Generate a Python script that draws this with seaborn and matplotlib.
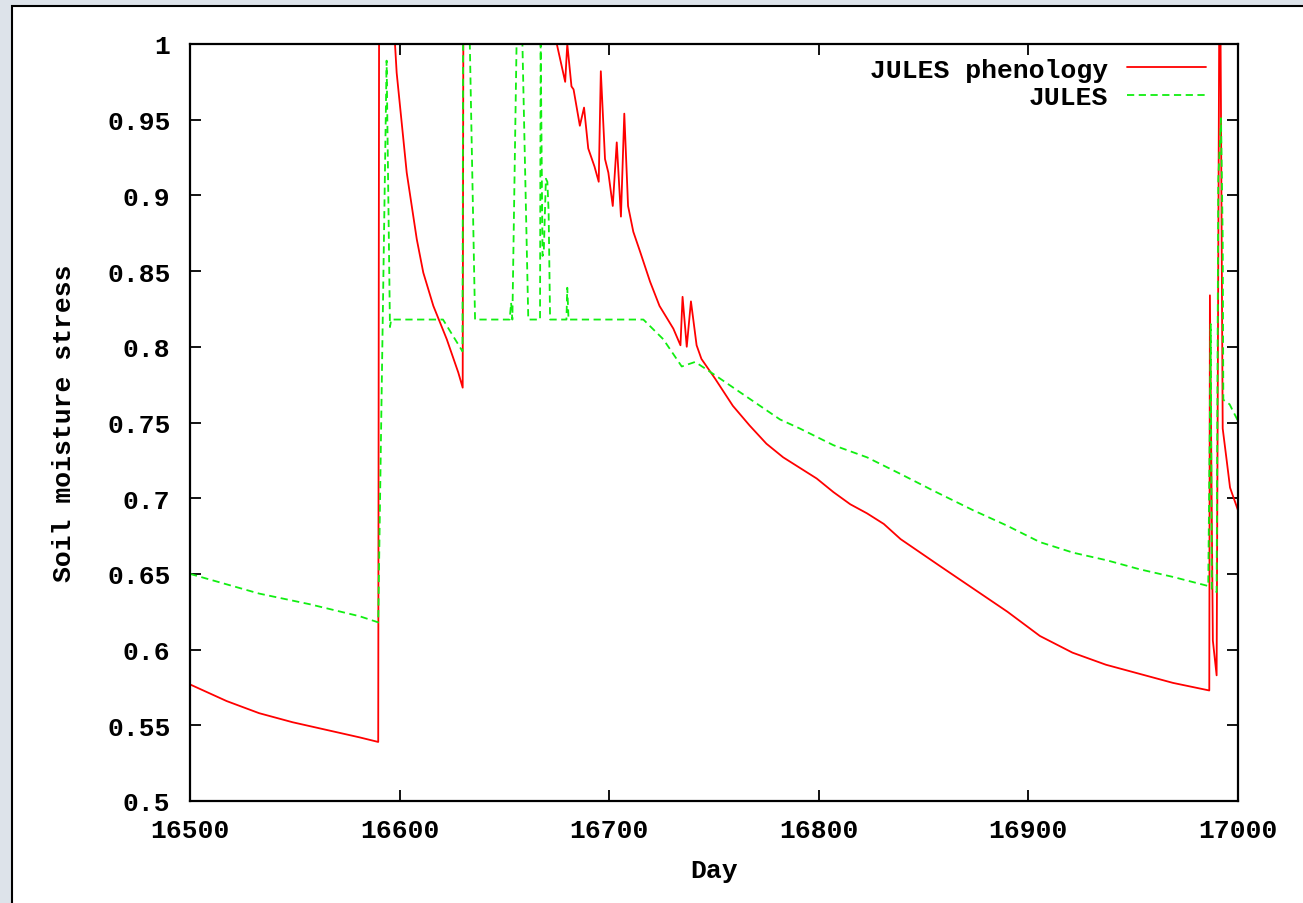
import matplotlib
matplotlib.use("Agg")
import matplotlib.pyplot as plt
import seaborn as sns
from matplotlib.patches import Rectangle
from matplotlib.ticker import MultipleLocator, FuncFormatter

# --- Data ---
pheno_day = [16500, 16517.5, 16533, 16549, 16565, 16581, 16589.8, 16590.2, 16597.8, 16598.6,
             16600.2, 16601.8, 16603.4, 16605.8, 16608.2, 16611.3, 16616.1, 16622.5, 16628, 16630.1,
             16630.4, 16675, 16679, 16680, 16682, 16683, 16686,
             16688, 16690, 16693, 16695, 16696, 16698, 16699.6, 16701.7, 16703.6, 16705.6,
             16707.2, 16709, 16711.5, 16714.7, 16719.5, 16724, 16730.6, 16734, 16735, 16737,
             16739, 16741.7, 16744, 16750.5, 16759, 16767, 16775, 16783, 16791, 16799,
             16807, 16815, 16823, 16831, 16839, 16858, 16874, 16890, 16905.5, 16921,
             16937, 16953, 16969, 16986.3, 16986.6, 16988, 16989.8, 16991, 16991.7, 16992.7,
             16994.6, 16996.2, 17000]
pheno_val = [0.577, 0.566, 0.558, 0.552, 0.547, 0.542, 0.539, 1.0, 1.0, 0.981,
             0.959, 0.937, 0.915, 0.893, 0.871, 0.849, 0.827, 0.805, 0.783, 0.773,
             1.0, 1.0, 0.975, 1.0, 0.972, 0.970, 0.946,
             0.958, 0.931, 0.919, 0.909, 0.982, 0.924, 0.915, 0.893, 0.935, 0.886,
             0.954, 0.893, 0.876, 0.863, 0.843, 0.827, 0.812, 0.801, 0.833, 0.800,
             0.830, 0.801, 0.792, 0.779, 0.761, 0.748, 0.736, 0.727, 0.720, 0.713,
             0.704, 0.696, 0.690, 0.683, 0.673, 0.655, 0.640, 0.625, 0.609, 0.598,
             0.590, 0.584, 0.578, 0.573, 0.834, 0.606, 0.583, 1.0, 1.0, 0.746,
             0.725, 0.707, 0.692]

jules_day = [16500, 16533, 16557, 16581, 16589.8, 16593.8, 16595.4, 16596, 16620.7, 16630,
             16630.3, 16633.5, 16636, 16652.5, 16653.2, 16653.8, 16655.8, 16658.6, 16661.4, 16667,
             16667.3, 16668.2, 16668.8, 16669.8, 16670.5, 16671.1, 16671.8, 16679.6, 16680, 16680.6,
             16716.3, 16725.8, 16734.6, 16741, 16746.5, 16752.9, 16762.4, 16781.5, 16791, 16807,
             16823, 16839, 16854.6, 16873.7, 16889.6, 16905.5, 16921.4, 16937.4, 16953.2, 16969,
             16985.8, 16987, 16987.5, 16989.8, 16990.6, 16991.9, 16992.7, 16993, 16996, 17000]
jules_val = [0.650, 0.637, 0.630, 0.622, 0.618, 0.989, 0.813, 0.818, 0.818, 0.797,
             1.0, 1.0, 0.818, 0.818, 0.829, 0.818, 1.0, 1.0, 0.818, 0.818,
             1.0, 0.860, 0.863, 0.911, 0.909, 0.889, 0.818, 0.818, 0.839, 0.818,
             0.818, 0.805, 0.787, 0.790, 0.785, 0.779, 0.770, 0.752, 0.746, 0.735,
             0.727, 0.716, 0.705, 0.692, 0.682, 0.671, 0.664, 0.659, 0.653, 0.648,
             0.642, 0.815, 0.640, 0.638, 0.911, 0.951, 0.872, 0.765, 0.762, 0.751]

# --- Style ---
sns.set_style("ticks")
plt.rcParams["font.family"] = ["Liberation Mono", "DejaVu Sans Mono"]
plt.rcParams["font.weight"] = "bold"
plt.rcParams["axes.labelweight"] = "bold"
plt.rcParams["text.color"] = "black"
plt.rcParams["axes.labelcolor"] = "black"

W, H = 1303, 904
fig = plt.figure(figsize=(W / 100, H / 100), dpi=100, facecolor="#dde3ea")
# white window with a black frame, like the screenshot
fig.add_artist(Rectangle((12 / W, -0.05), 1.2, 1 - 7 / H + 0.05,
                         transform=fig.transFigure, facecolor="white",
                         edgecolor="black", linewidth=1.5, zorder=0))

ax = fig.add_axes([190 / W, 1 - 802 / H, 1048 / W, 757 / H])
ax.set_facecolor("white")

sns.lineplot(x=pheno_day, y=pheno_val, ax=ax, color="#ff0000", linewidth=1.3,
             label="JULES phenology", estimator=None, sort=False)
sns.lineplot(x=jules_day, y=jules_val, ax=ax, color="#11ee11", linewidth=1.3,
             linestyle=(0, (4, 2.5)), label="JULES", estimator=None, sort=False)

ax.set_xlim(16500, 17000)
ax.set_ylim(0.5, 1.0)
ax.xaxis.set_major_locator(MultipleLocator(100))
ax.yaxis.set_major_locator(MultipleLocator(0.05))
ax.yaxis.set_major_formatter(FuncFormatter(lambda v, p: f"{v:g}"))

for s in ax.spines.values():
    s.set_visible(True)
    s.set_linewidth(1.6)
    s.set_color("black")
ax.tick_params(direction="in", length=8, width=1.3, top=True, right=True,
               labelsize=19, colors="black", labelcolor="black")
ax.tick_params(axis="y", pad=14)
ax.tick_params(axis="x", pad=12)

ax.set_xlabel("Day", fontsize=19, fontweight="bold", labelpad=12, color="black")
ax.set_ylabel("Soil moisture stress", fontsize=19, fontweight="bold", labelpad=22, color="black")

leg = ax.legend(loc="upper right", bbox_to_anchor=(0.9695, 0.982), markerfirst=False,
                frameon=False, fontsize=19, handlelength=3.0, handletextpad=0.7,
                borderpad=0, borderaxespad=0, labelspacing=0.12)
for t in leg.get_texts():
    t.set_fontweight("bold")
    t.set_color("black")

fig.savefig("out.png", dpi=100, facecolor=fig.get_facecolor())
